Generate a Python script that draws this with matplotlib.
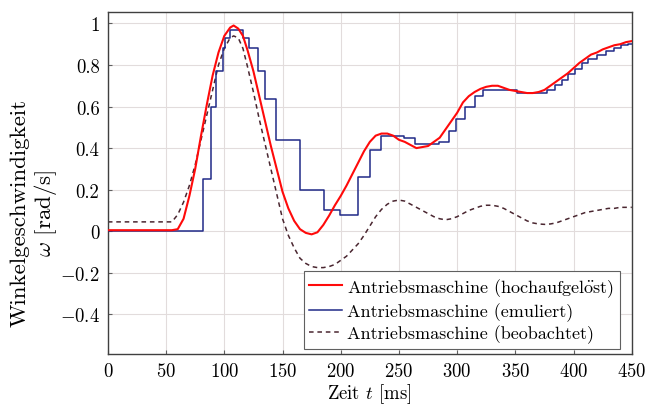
import numpy as np
import matplotlib
matplotlib.use("Agg")
import matplotlib.pyplot as plt

# ── Data ──────────────────────────────────────────────────────────────────────
t_hoch = [0, 55, 60, 65, 70, 75, 80, 85, 90, 95, 100, 105, 108, 112, 116, 120,
          125, 130, 135, 140, 145, 150, 155, 160, 165, 170, 175, 180, 185, 190,
          195, 200, 205, 210, 215, 220, 225, 230, 235, 240, 245, 250, 255, 260,
          265, 270, 275, 280, 285, 290, 295, 300, 305, 310, 315, 320, 325, 330,
          335, 340, 345, 350, 355, 360, 365, 370, 375, 380, 385, 390, 395, 400,
          405, 410, 415, 420, 425, 430, 435, 440, 445, 450]
w_hoch = [0.005, 0.005, 0.01, 0.06, 0.17, 0.30, 0.46, 0.61, 0.75, 0.86, 0.94,
          0.98, 0.99, 0.975, 0.94, 0.87, 0.77, 0.65, 0.53, 0.41, 0.30, 0.19,
          0.11, 0.05, 0.01, -0.008, -0.015, -0.005, 0.03, 0.075, 0.125, 0.17,
          0.22, 0.275, 0.33, 0.385, 0.43, 0.46, 0.47, 0.47, 0.46, 0.44, 0.43,
          0.415, 0.40, 0.405, 0.41, 0.43, 0.45, 0.49, 0.53, 0.57, 0.62, 0.65,
          0.67, 0.685, 0.695, 0.70, 0.70, 0.69, 0.68, 0.675, 0.67, 0.665, 0.665,
          0.67, 0.68, 0.70, 0.72, 0.74, 0.76, 0.785, 0.81, 0.83, 0.85, 0.86,
          0.875, 0.885, 0.895, 0.90, 0.91, 0.915]

t_emu = [0, 82, 89, 93, 99, 101, 105, 116, 121, 129, 135, 144, 165, 186, 199,
         215, 225, 235, 254, 264, 284, 293, 299, 307, 315, 322, 351, 377, 384,
         390, 395, 401, 407, 412, 420, 428, 435, 441, 447, 450]
w_emu = [0.0, 0.25, 0.60, 0.77, 0.88, 0.93, 0.97, 0.93, 0.88, 0.77, 0.635,
         0.44, 0.20, 0.10, 0.08, 0.26, 0.39, 0.46, 0.45, 0.42, 0.43, 0.48, 0.54,
         0.60, 0.65, 0.68, 0.667, 0.68, 0.705, 0.73, 0.755, 0.78, 0.81, 0.83,
         0.85, 0.867, 0.883, 0.894, 0.90, 0.90]

t_beob = [0, 55, 60, 65, 70, 75, 80, 85, 90, 95, 100, 105, 108, 112, 116, 120,
          125, 130, 135, 140, 145, 150, 155, 160, 165, 170, 175, 180, 185, 190,
          195, 200, 205, 210, 215, 220, 225, 230, 235, 240, 245, 250, 255, 260,
          265, 270, 275, 280, 285, 290, 295, 300, 305, 310, 315, 320, 325, 330,
          335, 340, 345, 350, 355, 360, 365, 370, 375, 380, 385, 390, 395, 400,
          405, 410, 415, 420, 425, 430, 435, 440, 445, 450]
w_beob = [0.045, 0.045, 0.08, 0.14, 0.22, 0.32, 0.44, 0.56, 0.68, 0.80, 0.88,
          0.93, 0.94, 0.93, 0.88, 0.79, 0.67, 0.54, 0.42, 0.30, 0.18, 0.06,
          -0.02, -0.08, -0.13, -0.155, -0.17, -0.175, -0.175, -0.17, -0.16,
          -0.14, -0.12, -0.09, -0.06, -0.02, 0.025, 0.07, 0.105, 0.13, 0.145,
          0.15, 0.145, 0.13, 0.115, 0.10, 0.085, 0.07, 0.06, 0.055, 0.06, 0.07,
          0.085, 0.10, 0.11, 0.12, 0.125, 0.125, 0.12, 0.11, 0.095, 0.08, 0.065,
          0.05, 0.04, 0.035, 0.033, 0.035, 0.04, 0.05, 0.06, 0.07, 0.08, 0.09,
          0.095, 0.10, 0.105, 0.11, 0.11, 0.115, 0.115, 0.115]

# cmr10 has no "ö", so the umlaut is set through mathtext (same font)
labels = ["Antriebsmaschine (hochaufgel$\\ddot{\\mathrm{o}}$st)",
          "Antriebsmaschine (emuliert)",
          "Antriebsmaschine (beobachtet)"]
x_ticks = [0, 50, 100, 150, 200, 250, 300, 350, 400, 450]
y_ticks = [-0.4, -0.2, 0, 0.2, 0.4, 0.6, 0.8, 1]

# ── Style ─────────────────────────────────────────────────────────────────────
plt.rcParams["font.family"] = ["cmr10", "DejaVu Serif"]
plt.rcParams["mathtext.fontset"] = "cm"
plt.rcParams["axes.formatter.use_mathtext"] = True
plt.rcParams["font.size"] = 13.5

fig = plt.figure(figsize=(6.46, 4.06), dpi=100)
ax = fig.add_axes([0.167, 0.126, 0.811, 0.842])

ax.plot(t_hoch, w_hoch, color="#ff0a0a", lw=1.5, label=labels[0], zorder=4)
ax.step(t_emu, w_emu, where="post", color="#202a88", lw=1.1, label=labels[1], zorder=3)
ax.plot(t_beob, w_beob, color="#4a2630", lw=1.1, ls=(0, (3, 2.5)), label=labels[2], zorder=2)

ax.set_xlim(0, 450)
ax.set_ylim(-0.59, 1.055)
ax.set_xticks(x_ticks)
ax.set_yticks(y_ticks)
ax.set_yticklabels([f"$-${abs(v):g}" if v < 0 else f"{v:g}" for v in y_ticks])
ax.tick_params(direction="in", length=3, color="#606060", pad=6)
ax.grid(True, color="#e2dcdc", lw=0.8)
ax.set_axisbelow(True)
for s in ax.spines.values():
    s.set_color("#404040")
    s.set_linewidth(1.0)

ax.set_xlabel("Zeit $t$ [ms]", fontsize=13.5, labelpad=1)
ax.set_ylabel("Winkelgeschwindigkeit\n$\\omega$ [rad/s]", fontsize=16.5,
              linespacing=1.15)
ax.yaxis.set_label_coords(-0.093, 0.415)

leg = ax.legend(loc="lower right", bbox_to_anchor=(0.977, 0.015), fancybox=False,
                edgecolor="#606060", framealpha=1, handlelength=1.8,
                handletextpad=0.3, borderpad=0.3, labelspacing=0.2,
                borderaxespad=0, fontsize=13)
leg.get_frame().set_linewidth(0.8)

fig.savefig("out.png", dpi=100)
